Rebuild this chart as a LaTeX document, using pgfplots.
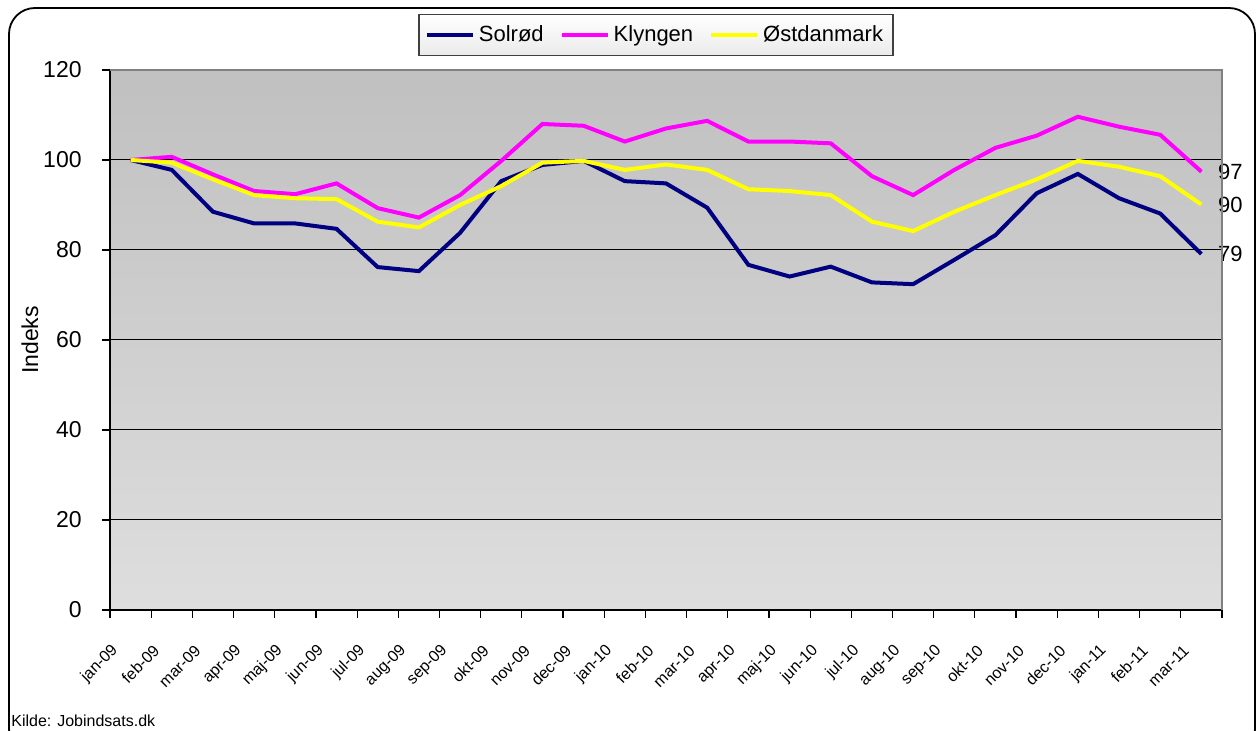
\documentclass[border=0pt]{standalone}
\usepackage{pgfplots}
\pgfplotsset{compat=1.18}
\usepackage{fontspec}
\setmainfont{Liberation Sans}

\definecolor{solrod}{RGB}{0,0,128}
\definecolor{klyngen}{RGB}{255,0,255}
\definecolor{ostdk}{RGB}{255,255,0}
\definecolor{plottop}{RGB}{192,192,192}
\definecolor{plotbot}{RGB}{222,222,222}
\definecolor{framemid}{RGB}{196,196,196}

\begin{document}
\begin{tikzpicture}
\useasboundingbox (0pt,0pt) rectangle (630pt,365.5pt);
\fill[white] (0pt,0pt) rectangle (630pt,365.5pt);
\shade[top color=white, middle color=framemid, bottom color=white, draw=black, line width=0.9pt, rounded corners=13pt]
  (4.5pt,-12pt) rectangle (627.5pt,361.5pt);
\node[anchor=west, inner sep=0pt, font=\fontsize{8}{9}\selectfont] at (5.5pt,5pt) {Kilde: Jobindsats.dk};

\begin{axis}[
    at={(55pt,60.5pt)}, anchor=south west,
    width=556pt, height=270pt, scale only axis,
    xmin=0, xmax=27, ymin=0, ymax=120,
    axis lines*=left, axis line style={-, black, line width=0.7pt},
    axis background/.style={top color=plottop, bottom color=plotbot},
    xtick={0,...,27},
    xticklabels={jan-09,feb-09,mar-09,apr-09,maj-09,jun-09,jul-09,aug-09,sep-09,okt-09,nov-09,dec-09,jan-10,feb-10,mar-10,apr-10,maj-10,jun-10,jul-10,aug-10,sep-10,okt-10,nov-10,dec-10,jan-11,feb-11,mar-11},
    x tick label as interval,
    ytick={0,20,...,120},
    yticklabels={0,20,40,60,80,100,120},
    tick align=outside, major tick length=4pt,
    tick style={black, line width=0.6pt},
    ymajorgrids, grid style={black, line width=0.5pt},
    y tick label style={font=\fontsize{11.5}{13}\selectfont, anchor=east, inner sep=0pt, xshift=-10pt},
    x tick label style={xshift=-7.5pt, yshift=-15pt, rotate=45, anchor=east, inner sep=0pt, font=\fontsize{8}{9.5}\selectfont},
    ylabel={Indeks},
    ylabel style={at={(axis description cs:-0.072,0.5)}, anchor=center, font=\fontsize{11.5}{13}\selectfont},
    clip=false,
    legend columns=-1,
    legend style={at={(0.491,1.065)}, anchor=center, draw=black!75, line width=0.6pt,
        top color=white, bottom color=black!8,
        font=\fontsize{11}{13}\selectfont, inner xsep=3pt, inner ysep=3.5pt,
        /tikz/every even column/.append style={column sep=6pt}},
    legend image code/.code={\draw[#1] (0pt,0pt) -- (23pt,0pt);},
]
\addplot[solrod, line width=2pt] coordinates {
 (0.5,100) (1.5,97.8) (2.5,88.5) (3.5,85.9) (4.5,85.9) (5.5,84.7) (6.5,76.2) (7.5,75.3) (8.5,83.8)
 (9.5,95.3) (10.5,98.9) (11.5,99.8) (12.5,95.3) (13.5,94.8) (14.5,89.4) (15.5,76.7) (16.5,74.1) (17.5,76.3)
 (18.5,72.8) (19.5,72.4) (20.5,77.8) (21.5,83.3) (22.5,92.6) (23.5,96.9) (24.5,91.5) (25.5,88.1) (26.5,79.1)
} node[pos=1, anchor=west, xshift=4pt, black, font=\fontsize{11}{13}\selectfont] {79};
\addlegendentry{Solrød}
\addplot[klyngen, line width=2pt] coordinates {
 (0.5,100) (1.5,100.7) (2.5,96.8) (3.5,93.1) (4.5,92.4) (5.5,94.8) (6.5,89.3) (7.5,87.2) (8.5,92.2)
 (9.5,99.8) (10.5,108.0) (11.5,107.6) (12.5,104.1) (13.5,107.0) (14.5,108.7) (15.5,104.1) (16.5,104.1) (17.5,103.7)
 (18.5,96.4) (19.5,92.2) (20.5,97.8) (21.5,102.7) (22.5,105.4) (23.5,109.6) (24.5,107.4) (25.5,105.6) (26.5,97.4)
} node[pos=1, anchor=west, xshift=4pt, black, font=\fontsize{11}{13}\selectfont] {97};
\addlegendentry{Klyngen}
\addplot[ostdk, line width=2pt] coordinates {
 (0.5,100) (1.5,99.4) (2.5,95.7) (3.5,92.2) (4.5,91.5) (5.5,91.3) (6.5,86.3) (7.5,85.0) (8.5,90.0)
 (9.5,94.2) (10.5,99.4) (11.5,99.8) (12.5,97.8) (13.5,99.0) (14.5,97.8) (15.5,93.5) (16.5,93.1) (17.5,92.2)
 (18.5,86.3) (19.5,84.2) (20.5,88.5) (21.5,92.2) (22.5,95.7) (23.5,99.8) (24.5,98.5) (25.5,96.4) (26.5,90.1)
} node[pos=1, anchor=west, xshift=4pt, black, font=\fontsize{11}{13}\selectfont] {90};
\addlegendentry{Østdanmark}
\draw[black!50, line width=0.7pt] (rel axis cs:0,1) -- (rel axis cs:1,1) -- (rel axis cs:1,0);
\end{axis}
\end{tikzpicture}
\end{document}
